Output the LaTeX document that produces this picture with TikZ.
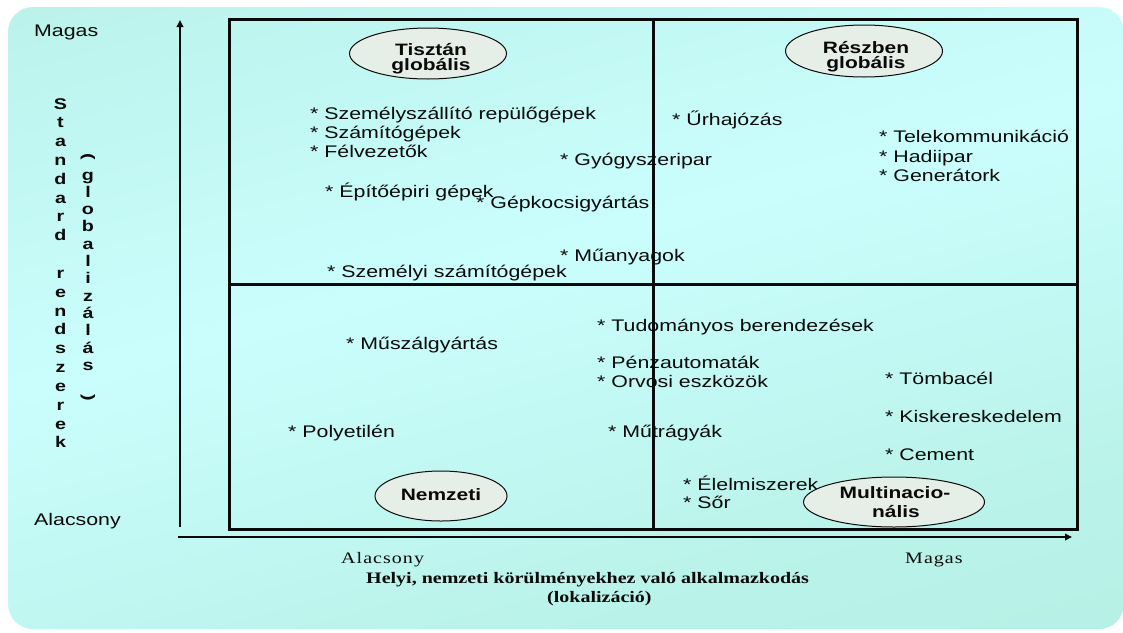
\documentclass[tikz,border=0pt]{standalone}
\usepackage{fontspec}
\setmainfont{Liberation Sans}
\newfontfamily\sansw[FakeStretch=1.27]{Liberation Sans}
\newfontfamily\serifw[FakeStretch=1.25]{Liberation Serif}
\newfontfamily\serifsp[FakeStretch=1.25,LetterSpace=6.5]{Liberation Serif}
\usetikzlibrary{shapes.geometric,arrows.meta}

\definecolor{bgtop}{HTML}{ADE8DB}
\definecolor{bgmid}{HTML}{CAFEFD}
\definecolor{bgbot}{HTML}{AFEBDD}
\definecolor{ovalfill}{HTML}{E6EFE7}
\definecolor{ink}{HTML}{0A0A0A}

% soft teal-to-cyan slide background
\pgfdeclareverticalshading{slidebg}{100bp}{%
  color(0bp)=(bgbot); color(30bp)=(bgbot!60!bgmid); color(55bp)=(bgmid);
  color(75bp)=(bgmid!60!bgtop); color(100bp)=(bgtop)}

\tikzset{
  item/.style={anchor=base west, inner sep=0pt, text=ink,
    font=\sansw\fontsize{16.8}{19}\selectfont},
  vlet/.style={anchor=base, inner sep=0pt, text=ink,
    font=\sansw\bfseries\fontsize{15.5}{18}\selectfont},
  oval/.style={ellipse, draw=ink, line width=1pt, fill=ovalfill, inner sep=0pt},
  ovaltext/.style={anchor=base, inner sep=0pt, text=ink,
    font=\sansw\bfseries\fontsize{16.5}{18}\selectfont},
  botlab/.style={anchor=base west, inner sep=0pt, text=ink,
    font=\serifsp\fontsize{16}{19}\selectfont},
  bottitle/.style={anchor=base west, inner sep=0pt, text=ink,
    font=\serifw\bfseries\fontsize{16}{19}\selectfont},
  frame/.style={line width=3pt, draw=ink},
  axis/.style={line width=1.8pt, draw=ink, -{Triangle[length=7pt,width=6.5pt]}},
}

\begin{document}
\begin{tikzpicture}[x=1pt,y=-1pt]
\useasboundingbox (0,0) rectangle (1123,632);

% slide background
\shade[rounded corners=25pt, shading=slidebg, shading angle=15]
  (8,7) rectangle (1124,629);

% vertical axis labels
\node[item] (ymax) at (34,36) {Magas};
\node[item] (ymin) at (34,525) {Alacsony};

\foreach \ch [count=\i from 0] in {S,t,a,n,d,a,r,d,{},r,e,n,d,s,z,e,r,e,k}
  \node[vlet] (std\i) at (60.5,{109+\i*18.83}) {\ch};
\node[vlet, anchor=center] (glopen) at (88,157) {\rotatebox{-90}{(}};
\foreach \ch [count=\i from 0] in {g,l,o,b,a,l,i,z,á,l,á,s}
  \node[vlet] (glo\i) at (88,{180+\i*17.3}) {\ch};
\node[vlet, anchor=center] (glclose) at (88,398) {\rotatebox{-90}{)}};

% horizontal axis labels
\node[botlab] (xmin) at (341,563) {Alacsony};
\node[botlab] (xmax) at (905,563) {Magas};
\node[bottitle] (xtitle) at (366,583) {Helyi, nemzeti körülményekhez való alkalmazkodás};
\node[bottitle] (xtitle2) at (547,602) {(lokalizáció)};

% upper left quadrant
\node[item] (i1) at (310,119) {* Személyszállító repülőgépek};
\node[item] (i2) at (310,138) {* Számítógépek};
\node[item] (i3) at (310,157) {* Félvezetők};
\node[item] (i4) at (325,197) {* Építőépiri gépek};
\node[item] (i5) at (476,208) {* Gépkocsigyártás};
\node[item] (i6) at (560,165) {* Gyógyszeripar};
\node[item] (i7) at (560,261) {* Műanyagok};
\node[item] (i8) at (327,277) {* Személyi számítógépek};

% upper right quadrant
\node[item] (j1) at (672,125) {* Űrhajózás};
\node[item] (j2) at (879,142) {* Telekommunikáció};
\node[item] (j3) at (879,162) {* Hadiipar};
\node[item] (j4) at (879,181) {* Generátork};

% lower left quadrant
\node[item] (k1) at (346,349) {* Műszálgyártás};
\node[item] (k2) at (288,437) {* Polyetilén};
\node[item] (k3) at (597,331) {* Tudományos berendezések};
\node[item] (k4) at (597,368) {* Pénzautomaták};
\node[item] (k5) at (597,387) {* Orvosi eszközök};
\node[item] (k6) at (608,437) {* Műtrágyák};

% lower right quadrant
\node[item] (m1) at (885,384) {* Tömbacél};
\node[item] (m2) at (885,422) {* Kiskereskedelem};
\node[item] (m3) at (885,460) {* Cement};
\node[item] (m4) at (683,490) {* Élelmiszerek};
\node[item] (m5) at (683,508) {* Sőr};

% quadrant frame
\coordinate (fNW) at (229,19);
\coordinate (fSE) at (1077,529);
\coordinate (fN) at (653,19);
\coordinate (fS) at (653,529);
\coordinate (fW) at (229,284);
\coordinate (fE) at (1077,284);
\draw[frame] (fNW) rectangle (fSE);
\draw[frame] (fN) -- (fS);
\draw[frame] (fW) -- (fE);

% axes
\coordinate (yfrom) at (180,527);
\coordinate (yto) at (180,20);
\coordinate (xfrom) at (178,537);
\coordinate (xto) at (1072,537);
\draw[axis] (yfrom) -- (yto);
\draw[axis] (xfrom) -- (xto);

% strategy ovals
\node[oval, minimum width=157pt, minimum height=51pt] (ovTL) at (428,53.5) {};
\node[ovaltext] (ovTLa) at (431,55) {Tisztán};
\node[ovaltext] (ovTLb) at (431,70.5) {globális};

\node[oval, minimum width=157pt, minimum height=52pt] (ovTR) at (864,51) {};
\node[ovaltext] (ovTRa) at (866,53) {Részben};
\node[ovaltext] (ovTRb) at (866,68.5) {globális};

\node[oval, minimum width=132pt, minimum height=50pt] (ovBL) at (441,496) {};
\node[ovaltext] (ovBLa) at (441,500) {Nemzeti};

\node[oval, minimum width=181pt, minimum height=50pt] (ovBR) at (894,502) {};
\node[ovaltext] (ovBRa) at (895,498) {Multinacio-};
\node[ovaltext] (ovBRb) at (896,517) {nális};
\end{tikzpicture}
\end{document}
